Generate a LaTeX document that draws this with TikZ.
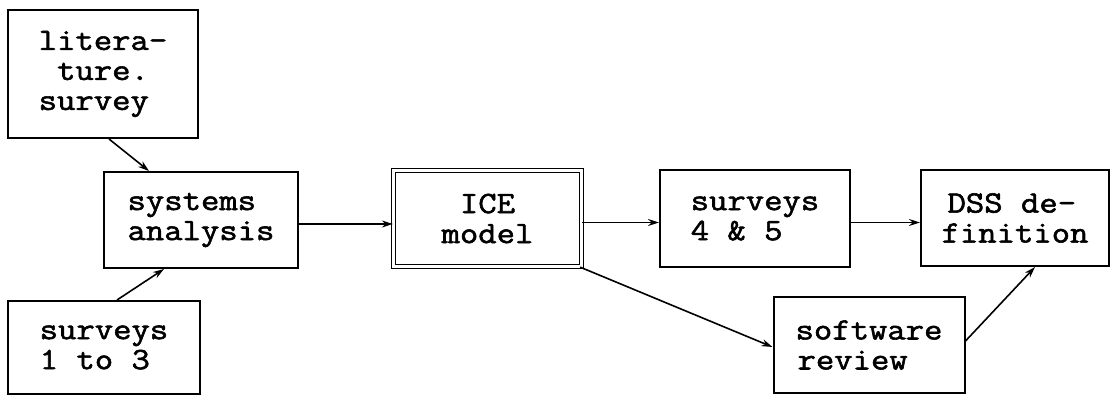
\documentclass[tikz,border=0pt]{standalone}
\usepackage{fontspec}
\newfontfamily\tw{Latin Modern Mono}[FakeBold=1.8, FakeStretch=1.15]
\usetikzlibrary{arrows.meta}
\begin{document}
\begin{tikzpicture}[x=1pt,y=-1pt,
  stage/.style={draw, line width=2pt, align=left, inner sep=0pt,
    font=\tw\fontsize{31}{30}\selectfont},
  keystage/.style={stage, line width=1.3pt, double, double distance=3pt},
  flow/.style={line width=1.6pt, -{Stealth[length=11pt,width=7pt]}}]
\useasboundingbox[fill=white] (0,0) rectangle (1116,395);

% inputs feeding the analysis
\node[stage, minimum width=190pt, minimum height=128pt] (lit) at (103,74)
  {litera-\\\hphantom{t}ture.\\survey};
\node[stage, minimum width=192pt, minimum height=93pt] (s13) at (104,347.5)
  {surveys\\1 to 3};
\node[stage, minimum width=194pt, minimum height=96pt] (sys) at (201,220)
  {systems\\analysis};

% central model
\node[keystage, minimum width=188pt, minimum height=96pt] (ice) at (487.5,218.5)
  {\hphantom{m}ICE\\model};

% downstream stages
\node[stage, minimum width=190pt, minimum height=97pt] (s45) at (755,218.5)
  {surveys\\4 \& 5};
\node[stage, minimum width=188pt, minimum height=96pt] (dss) at (1015,218)
  {\hspace{6pt}DSS de-\\finition};
\node[stage, minimum width=191pt, minimum height=96pt] (sw) at (869,345)
  {software\\\hspace{2pt}review};

% connectors
\draw[flow] ([xshift=102pt]lit.south west) -- ([xshift=46pt]sys.north west);
\draw[flow] ([xshift=110pt]s13.north west) -- ([xshift=61pt]sys.south west);
\draw[flow] ([yshift=-4pt]sys.east) -- ([yshift=-4pt]sys.east -| ice.west);
\draw[flow] ([yshift=-4pt]ice.east) -- ([yshift=-4pt]ice.east -| s45.west);
\draw[flow] ([yshift=-4pt]s45.east) -- ([yshift=-4pt]s45.east -| dss.west);
\draw[flow] ([xshift=-2pt]ice.south east) -- ([yshift=-2pt]sw.west);
\draw[flow] ([yshift=4pt]sw.east) -- ([xshift=115pt]dss.south west);
\end{tikzpicture}
\end{document}
